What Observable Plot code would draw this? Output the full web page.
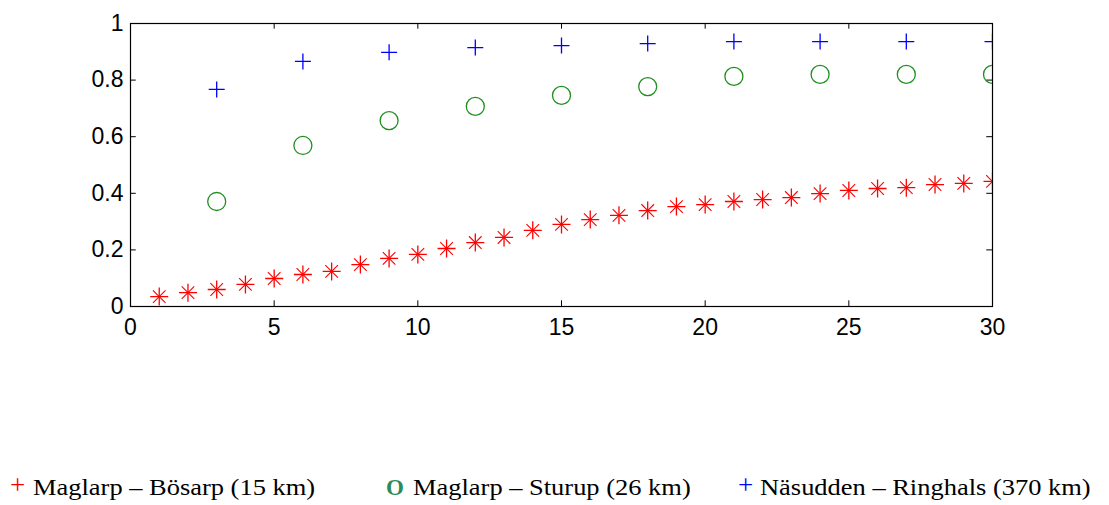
<!DOCTYPE html>
<html>
<head>
<meta charset="utf-8">
<script src="https://cdn.jsdelivr.net/npm/d3@7"></script>
<script src="https://cdn.jsdelivr.net/npm/@observablehq/plot@0.6"></script>
<style>
  html, body { margin: 0; padding: 0; background: #fff; }
  #wrap { position: relative; width: 1109px; height: 505px; }
  #legend { position: absolute; left: 0; top: 476px; width: 1109px; height: 24px;
            font-family: "Liberation Serif", "Times New Roman", serif; font-size: 23px; line-height: 23px; color: #000; }
  #legend span { position: absolute; top: 0; white-space: nowrap; }
  #legend span.txt { transform: scaleX(1.15); transform-origin: 0 0; }
  #legend span.plus { font-size: 27px; top: -2px; }
</style>
</head>
<body>
<div id="wrap">
  <div id="chart"></div>
  <div id="legend">
    <span class="plus" style="left:10px;color:#ff0000">+</span>
    <span class="txt" style="left:33px">Maglarp – Bösarp (15 km)</span>
    <span style="left:386px;color:#2e8b57;font-weight:bold">O</span>
    <span class="txt" style="left:413px">Maglarp – Sturup (26 km)</span>
    <span class="plus" style="left:738px;color:#0000ff">+</span>
    <span class="txt" style="left:760px">Näsudden – Ringhals (370 km)</span>
  </div>
</div>
<script>
// Series: Maglarp – Bösarp (15 km), red asterisk/plus markers, x = 1..30
const redX = [1,2,3,4,5,6,7,8,9,10,11,12,13,14,15,16,17,18,19,20,21,22,23,24,25,26,27,28,29,30];
const redY = [0.035,0.049,0.060,0.078,0.099,0.113,0.124,0.148,0.170,0.184,0.205,0.226,0.244,0.269,0.290,0.307,0.322,0.339,0.353,0.360,0.371,0.378,0.385,0.399,0.410,0.417,0.420,0.431,0.435,0.442];
// Series: Maglarp – Sturup (26 km), green circles
const greenX = [3,6,9,12,15,18,21,24,27,30];
const greenY = [0.371,0.569,0.657,0.707,0.746,0.777,0.813,0.820,0.820,0.820];
// Series: Näsudden – Ringhals (370 km), blue plus
const blueX = [3,6,9,12,15,18,21,24,27,30];
const blueY = [0.767,0.866,0.898,0.915,0.922,0.929,0.936,0.936,0.936,0.936];
// Axis ticks
const xTicks = [0,5,10,15,20,25,30];
const yTicks = [0,0.2,0.4,0.6,0.8,1];
const yTickLabels = ["0","0.2","0.4","0.6","0.8","1"];

const red = redX.map((x,i) => ({x, y: redY[i]}));
const green = greenX.map((x,i) => ({x, y: greenY[i]}));
const blue = blueX.map((x,i) => ({x, y: blueY[i]}));

const plusSymbol = {
  draw(ctx, size) {
    const r = Math.sqrt(size / Math.PI);
    ctx.moveTo(-r, 0); ctx.lineTo(r, 0);
    ctx.moveTo(0, -r); ctx.lineTo(0, r);
  }
};
const xSymbol = {
  draw(ctx, size) {
    const r = Math.sqrt(size / Math.PI) * 0.7;
    ctx.moveTo(-r, -r); ctx.lineTo(r, r);
    ctx.moveTo(-r, r); ctx.lineTo(r, -r);
  }
};

const chart = Plot.plot({
  width: 1109,
  height: 340,
  marginLeft: 130,
  marginRight: 117,
  marginTop: 23,
  marginBottom: 34,
  style: { fontFamily: "'Liberation Sans', Arial, sans-serif", fontSize: "23px", background: "#fff", color: "#000" },
  x: { domain: [0, 30] },
  y: { domain: [0, 1] },
  marks: [
    Plot.frame({ stroke: "#000", strokeWidth: 1.2 }),
    // inward ticks on all four sides
    Plot.ruleX(xTicks, { x: d => d, y1: 0, y2: 0.02, stroke: "#000" }),
    Plot.ruleX(xTicks, { x: d => d, y1: 0.98, y2: 1, stroke: "#000" }),
    Plot.ruleY(yTicks, { y: d => d, x1: 0, x2: 0.2, stroke: "#000" }),
    Plot.ruleY(yTicks, { y: d => d, x1: 29.8, x2: 30, stroke: "#000" }),
    Plot.axisX({ ticks: xTicks, tickSize: 0, tickPadding: 12, tickFormat: d => String(d), label: null, fontSize: 23 }),
    Plot.axisY({ ticks: yTicks, tickSize: 0, tickPadding: 7, tickFormat: (d, i) => yTickLabels[i], label: null, fontSize: 23 }),
    Plot.dot(green, { x: "x", y: "y", r: 9, stroke: "#1f8f1f", strokeWidth: 1.3, fill: "none", clip: true }),
    Plot.dot(blue, { x: "x", y: "y", r: 8, symbol: plusSymbol, stroke: "#0000ff", strokeWidth: 1.3, fill: "none", clip: true }),
    Plot.dot(red, { x: "x", y: "y", r: 9, symbol: plusSymbol, stroke: "#ff0000", strokeWidth: 1.3, fill: "none", clip: true }),
    Plot.dot(red, { x: "x", y: "y", r: 9, symbol: xSymbol, stroke: "#ff0000", strokeWidth: 1.1, fill: "none", clip: true })
  ]
});
document.getElementById("chart").appendChild(chart);
</script>
</body>
</html>
